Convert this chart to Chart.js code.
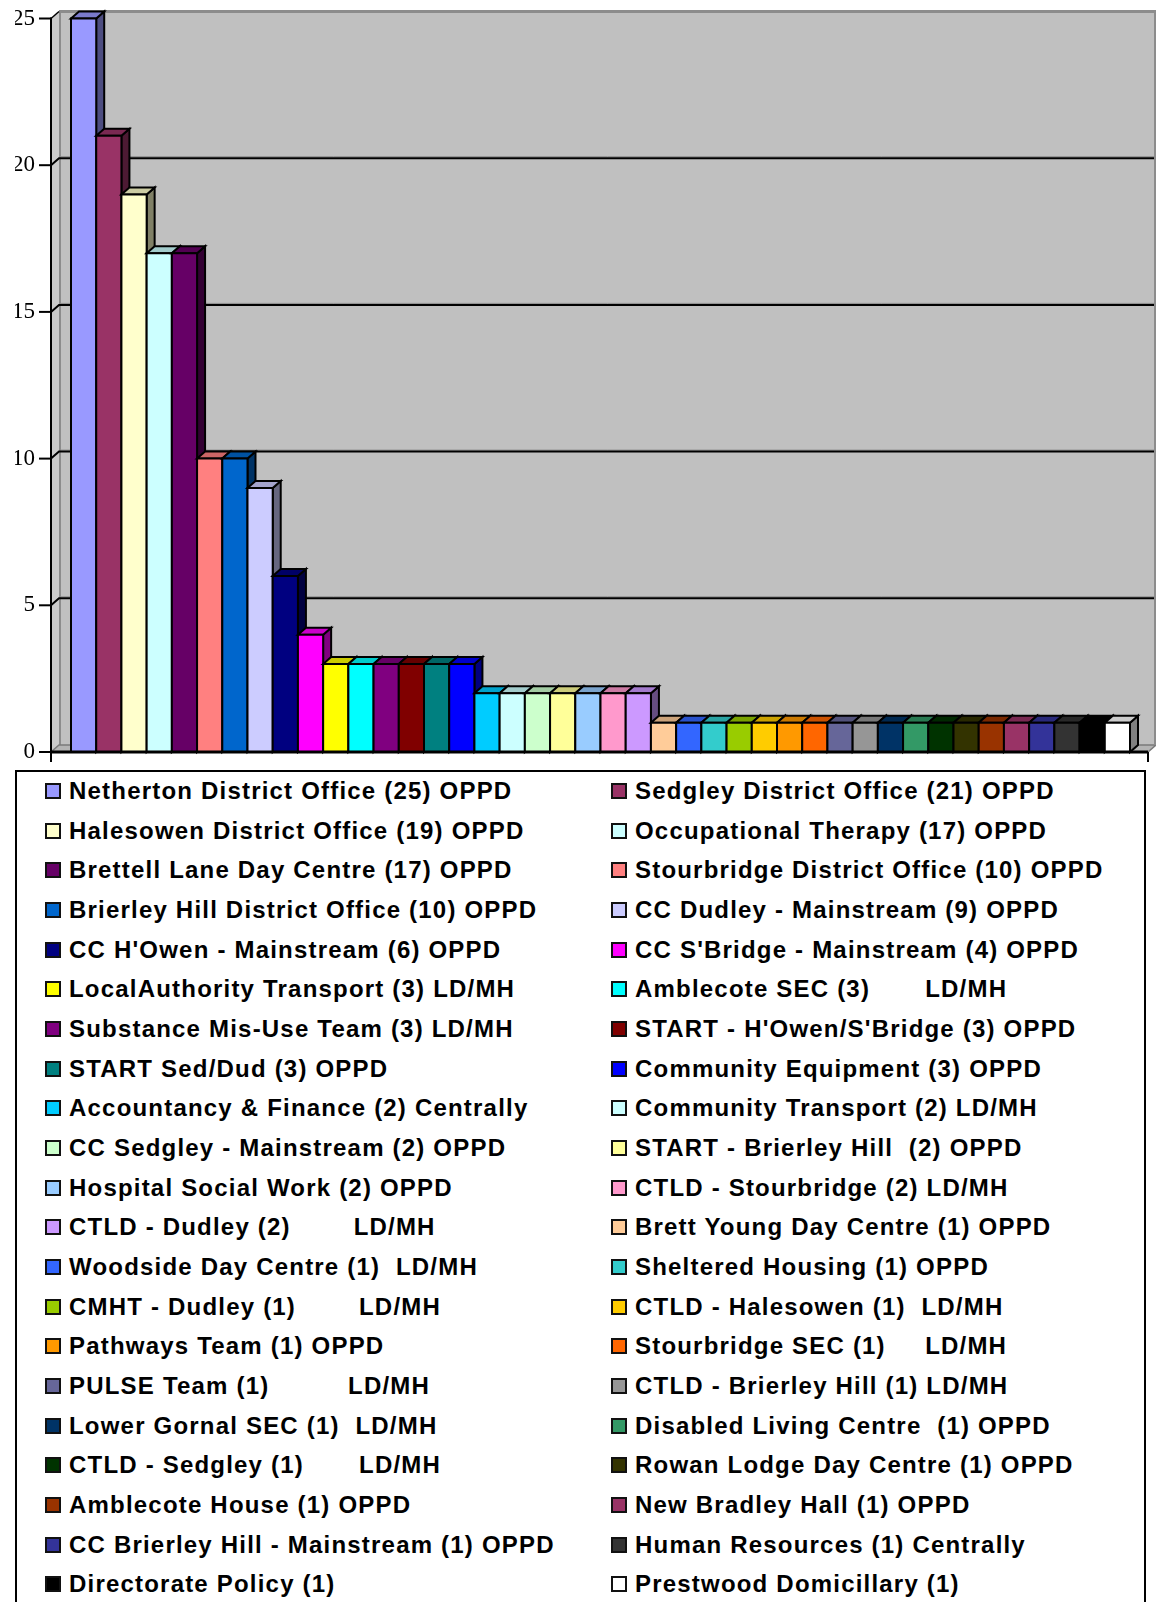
<!DOCTYPE html>
<html>
<head>
<meta charset="utf-8">
<script src="https://cdn.jsdelivr.net/npm/chart.js@4/dist/chart.umd.min.js"></script>
<style>
  html, body { margin: 0; padding: 0; background: #fff; width: 1156px; height: 1602px; overflow: hidden; }
  #chartBox { position: absolute; left: 0; top: 0; width: 1156px; height: 768px; }
  #legend {
    position: absolute; left: 15px; top: 770px; width: 1131px; height: 900px;
    border: 2px solid #000; box-sizing: border-box; background: #fff;
  }
  .item {
    position: absolute; height: 40px; display: flex; align-items: center;
    font: 700 24px "Liberation Sans", Arial, sans-serif; letter-spacing: 1.2px;
    white-space: pre; color: #000;
  }
  .sw { width: 16px; height: 16px; box-sizing: border-box; border: 2px solid #111; margin-right: 8px; flex: none; }
</style>
</head>
<body>
<div id="chartBox"><canvas id="c" width="1156" height="768"></canvas></div>
<div id="legend"></div>
<script>
// Services and the number of referrals for each
const services = [
  "Netherton District Office (25) OPPD",
  "Sedgley District Office (21) OPPD",
  "Halesowen District Office (19) OPPD",
  "Occupational Therapy (17) OPPD",
  "Brettell Lane Day Centre (17) OPPD",
  "Stourbridge District Office (10) OPPD",
  "Brierley Hill District Office (10) OPPD",
  "CC Dudley - Mainstream (9) OPPD",
  "CC H'Owen - Mainstream (6) OPPD",
  "CC S'Bridge - Mainstream (4) OPPD",
  "LocalAuthority Transport (3) LD/MH",
  "Amblecote SEC (3)       LD/MH",
  "Substance Mis-Use Team (3) LD/MH",
  "START - H'Owen/S'Bridge (3) OPPD",
  "START Sed/Dud (3) OPPD",
  "Community Equipment (3) OPPD",
  "Accountancy & Finance (2) Centrally",
  "Community Transport (2) LD/MH",
  "CC Sedgley - Mainstream (2) OPPD",
  "START - Brierley Hill  (2) OPPD",
  "Hospital Social Work (2) OPPD",
  "CTLD - Stourbridge (2) LD/MH",
  "CTLD - Dudley (2)        LD/MH",
  "Brett Young Day Centre (1) OPPD",
  "Woodside Day Centre (1)  LD/MH",
  "Sheltered Housing (1) OPPD",
  "CMHT - Dudley (1)        LD/MH",
  "CTLD - Halesowen (1)  LD/MH",
  "Pathways Team (1) OPPD",
  "Stourbridge SEC (1)     LD/MH",
  "PULSE Team (1)          LD/MH",
  "CTLD - Brierley Hill (1) LD/MH",
  "Lower Gornal SEC (1)  LD/MH",
  "Disabled Living Centre  (1) OPPD",
  "CTLD - Sedgley (1)       LD/MH",
  "Rowan Lodge Day Centre (1) OPPD",
  "Amblecote House (1) OPPD",
  "New Bradley Hall (1) OPPD",
  "CC Brierley Hill - Mainstream (1) OPPD",
  "Human Resources (1) Centrally",
  "Directorate Policy (1)",
  "Prestwood Domicillary (1)"
];

const referrals = [
  25, 21, 19, 17, 17, 10, 10, 9, 6, 4,
  3, 3, 3, 3, 3, 3,
  2, 2, 2, 2, 2, 2, 2,
  1, 1, 1, 1, 1, 1, 1, 1, 1, 1, 1, 1, 1, 1, 1, 1, 1, 1, 1
];

const barColors = [
  "#9999FF", "#993366", "#FFFFCC", "#CCFFFF", "#660066", "#FF8080", "#0066CC", "#CCCCFF",
  "#000080", "#FF00FF", "#FFFF00", "#00FFFF", "#800080", "#800000", "#008080", "#0000FF",
  "#00CCFF", "#CCFFFF", "#CCFFCC", "#FFFF99", "#99CCFF", "#FF99CC", "#CC99FF", "#FFCC99",
  "#3366FF", "#33CCCC", "#99CC00", "#FFCC00", "#FF9900", "#FF6600", "#666699", "#969696",
  "#003366", "#339966", "#003300", "#333300", "#993300", "#993366", "#333399", "#333333",
  "#000000", "#FFFFFF"
];

const yTicks = [0, 5, 10, 15, 20, 25];

// depth of the 3-D projection
const DX = 8, DY = 7;

function shade(hex, f) {
  const n = parseInt(hex.slice(1), 16);
  const r = Math.round(((n >> 16) & 255) * f);
  const g = Math.round(((n >> 8) & 255) * f);
  const b = Math.round((n & 255) * f);
  return `rgb(${r},${g},${b})`;
}

function poly(ctx, pts, fill, stroke, lw) {
  ctx.beginPath();
  ctx.moveTo(pts[0][0], pts[0][1]);
  for (let i = 1; i < pts.length; i++) ctx.lineTo(pts[i][0], pts[i][1]);
  ctx.closePath();
  if (fill) { ctx.fillStyle = fill; ctx.fill(); }
  if (stroke) { ctx.strokeStyle = stroke; ctx.lineWidth = lw || 1; ctx.stroke(); }
}

function line(ctx, pts, color, lw) {
  ctx.beginPath();
  ctx.moveTo(pts[0][0], pts[0][1]);
  for (let i = 1; i < pts.length; i++) ctx.lineTo(pts[i][0], pts[i][1]);
  ctx.strokeStyle = color; ctx.lineWidth = lw; ctx.stroke();
}

// walls, floor and gridlines behind the columns
const frame3d = {
  id: 'frame3d',
  beforeDatasetsDraw(chart) {
    const ctx = chart.ctx, ca = chart.chartArea, y = chart.scales.y;
    const ax = ca.left - 20, xEnd = ca.right + 18, wallRight = chart.width;
    const yTop = y.getPixelForValue(yTicks[yTicks.length - 1]);
    const y0 = y.getPixelForValue(0);
    ctx.save();
    ctx.lineJoin = 'miter';
    // back wall
    poly(ctx, [[ax + DX, yTop - DY], [wallRight, yTop - DY], [wallRight, y0 - DY], [ax + DX, y0 - DY]], '#C0C0C0');
    // side wall
    poly(ctx, [[ax, yTop], [ax + DX, yTop - DY], [ax + DX, y0 - DY], [ax, y0]], '#CACACA');
    line(ctx, [[ax + DX + 1, yTop - DY], [ax + DX + 1, y0 - DY]], '#8C8C8C', 2);
    // floor
    poly(ctx, [[ax, y0], [xEnd, y0], [xEnd + DX, y0 - DY], [ax + DX, y0 - DY]], '#B4B4B4', '#7A7A7A', 1.5);
    // gridlines
    yTicks.forEach(v => {
      if (v === 0) return;
      const py = y.getPixelForValue(v);
      if (v === yTicks[yTicks.length - 1]) {
        line(ctx, [[ax + DX, py - DY], [wallRight, py - DY]], '#8C8C8C', 3);
        line(ctx, [[wallRight - 1, py - DY], [wallRight - 1, y0 - DY]], '#8C8C8C', 2);
        line(ctx, [[ax, py], [ax + DX, py - DY]], '#000', 1.5);
      } else {
        line(ctx, [[ax + DX, py - DY - 1.5], [wallRight, py - DY - 1.5]], '#8C8C8C', 1);
        line(ctx, [[ax, py], [ax + DX, py - DY], [wallRight, py - DY]], '#000', 2);
      }
    });
    ctx.restore();
  },
  afterDatasetsDraw(chart) {
    const ctx = chart.ctx, ca = chart.chartArea, y = chart.scales.y;
    const meta = chart.getDatasetMeta(0);
    ctx.save();
    ctx.lineJoin = 'miter';
    // columns with top and side faces, left to right so each hides its neighbour's side
    meta.data.forEach((bar, i) => {
      const p = bar.getProps(['x', 'y', 'base', 'width'], true);
      const l = p.x - p.width / 2, r = p.x + p.width / 2, t = p.y, b = p.base;
      const c = barColors[i];
      poly(ctx, [[r, t], [r + DX, t - DY], [r + DX, b - DY], [r, b]], shade(c, 0.5), '#000', 2);
      poly(ctx, [[l, t], [r, t], [r + DX, t - DY], [l + DX, t - DY]], shade(c, 0.8), '#000', 2);
      poly(ctx, [[l, t], [r, t], [r, b], [l, b]], c, '#000', 2);
    });
    // axes
    const ax = ca.left - 20, xEnd = ca.right + 18;
    const y0 = y.getPixelForValue(0);
    const yTop = y.getPixelForValue(yTicks[yTicks.length - 1]);
    line(ctx, [[ax, y0], [xEnd, y0]], '#000', 3);
    line(ctx, [[ax, yTop - 1], [ax, y0 + 10]], '#000', 2);
    line(ctx, [[xEnd, y0], [xEnd, y0 + 10]], '#000', 2);
    yTicks.forEach(v => {
      const py = y.getPixelForValue(v);
      line(ctx, [[ax - 12, py], [ax, py]], '#000', 2);
    });
    ctx.restore();
  }
};

new Chart(document.getElementById('c'), {
  type: 'bar',
  data: {
    labels: services,
    datasets: [{
      data: referrals,
      backgroundColor: barColors,
      borderWidth: 0,
      barPercentage: 1,
      categoryPercentage: 1
    }]
  },
  options: {
    responsive: false,
    animation: false,
    events: [],
    layout: { padding: { left: 15, right: 26, top: 18.5, bottom: 16 } },
    plugins: { legend: { display: false }, tooltip: { enabled: false } },
    scales: {
      x: { display: false },
      y: {
        min: 0, max: 25,
        afterFit(s) { s.width = 56; s.paddingTop = 0; s.paddingBottom = 0; },
        ticks: {
          stepSize: 5, padding: 36, color: '#000',
          font: { family: '"Liberation Serif", "Times New Roman", serif', size: 23 }
        },
        grid: { display: false, drawTicks: false },
        border: { display: false }
      }
    }
  },
  plugins: [frame3d]
});

// two-column key below the chart
const legend = document.getElementById('legend');
const rowPitch = 39.67, firstRowTop = 791 - 772 - 20;
services.forEach((name, i) => {
  const row = Math.floor(i / 2), col = i % 2;
  const item = document.createElement('div');
  item.className = 'item';
  item.style.left = (col === 0 ? 28 : 594) + 'px';
  item.style.top = (firstRowTop + row * rowPitch) + 'px';
  const sw = document.createElement('span');
  sw.className = 'sw';
  sw.style.background = barColors[i];
  const tx = document.createElement('span');
  tx.textContent = name;
  item.appendChild(sw);
  item.appendChild(tx);
  legend.appendChild(item);
});
</script>
</body>
</html>
